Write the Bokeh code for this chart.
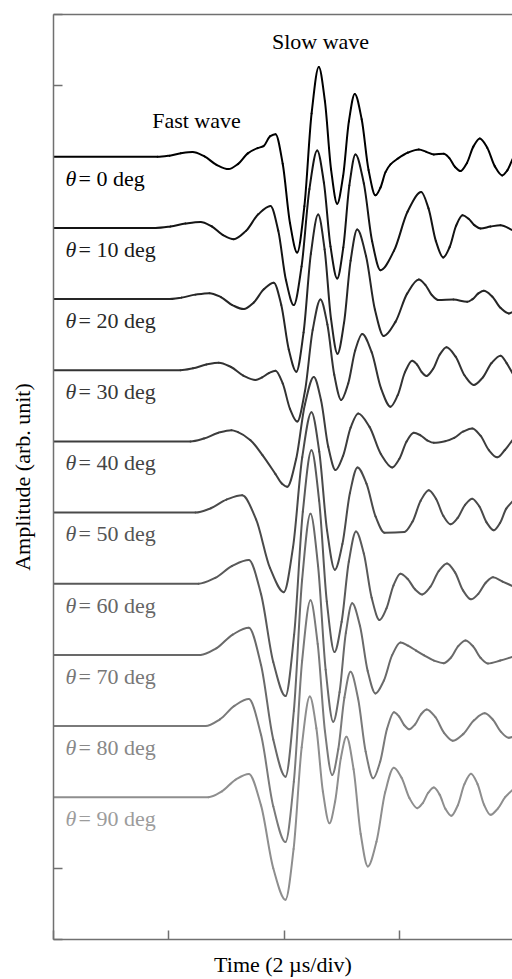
from bokeh.plotting import figure
from bokeh.models import Range1d, FixedTicker, LinearAxis, Label, ColumnDataSource
from bokeh.embed import file_html
from bokeh.resources import INLINE

# ---- data (time in microseconds, amplitude in arb. units relative to each trace's baseline) ----
angles = [0, 10, 20, 30, 40, 50, 60, 70, 80, 90]

t0 = [0, 1.804, 2.013, 2.209, 2.411, 2.619, 2.828, 3.036, 3.204, 3.371, 3.539, 3.643, 3.76, 3.851, 3.976, 4.102, 4.227, 4.352, 4.477, 4.602, 4.708, 4.815, 4.921, 5.023, 5.124, 5.226, 5.346, 5.465, 5.585, 5.672, 5.759, 5.846, 5.967, 6.15, 6.337, 6.467, 6.597, 6.770, 6.867, 6.963, 7.060, 7.172, 7.283, 7.395, 7.524, 7.654, 7.783, 7.872, 7.962]
a0 = [0, 0, 0.016, 0.050, 0.066, 0.006, -0.113, -0.173, -0.099, 0.049, 0.122, 0.150, 0.290, 0.318, -0.098, -0.930, -1.346, -0.694, 0.610, 1.262, 0.782, -0.179, -0.659, -0.273, 0.498, 0.884, 0.528, -0.185, -0.541, -0.432, -0.216, -0.107, -0.028, 0.060, 0.104, 0.070, 0.034, 0.042, -0.019, -0.140, -0.201, -0.086, 0.143, 0.258, 0.128, -0.131, -0.261, -0.190, -0.032]

t10 = [0, 1.769, 2.03, 2.29, 2.550, 2.742, 2.935, 3.127, 3.339, 3.552, 3.764, 3.899, 4.033, 4.168, 4.303, 4.439, 4.574, 4.690, 4.805, 4.921, 5.027, 5.132, 5.238, 5.383, 5.527, 5.672, 5.907, 6.143, 6.378, 6.505, 6.633, 6.760, 6.872, 6.983, 7.095, 7.2, 7.3, 7.407, 7.58, 7.754, 7.962]
a10 = [0, 0, 0.021, 0.063, 0.084, 0.024, -0.098, -0.158, -0.041, 0.192, 0.309, -0.039, -0.736, -1.084, -0.541, 0.547, 1.090, 0.640, -0.260, -0.710, -0.274, 0.598, 1.034, 0.627, -0.186, -0.593, -0.319, 0.231, 0.505, 0.275, -0.185, -0.415, -0.267, 0.030, 0.178, 0.13, 0.04, -0.008, 0.02, 0.038, -0.032]

t20 = [0, 1.977, 2.22, 2.46, 2.706, 2.904, 3.102, 3.301, 3.474, 3.648, 3.821, 3.951, 4.081, 4.212, 4.338, 4.464, 4.591, 4.703, 4.814, 4.926, 5.040, 5.154, 5.268, 5.422, 5.575, 5.729, 5.932, 6.134, 6.337, 6.45, 6.56, 6.678, 6.938, 7.176, 7.27, 7.37, 7.464, 7.609, 7.753, 7.898, 7.962]
a20 = [0, 0, 0.021, 0.063, 0.084, 0.028, -0.084, -0.140, -0.047, 0.138, 0.231, -0.082, -0.707, -1.020, -0.468, 0.636, 1.188, 0.699, -0.278, -0.767, -0.331, 0.542, 0.978, 0.604, -0.145, -0.519, -0.320, 0.077, 0.276, 0.20, 0.06, -0.014, -0.007, -0.038, 0.0, 0.08, 0.116, 0.037, -0.122, -0.201, -0.182]

t30 = [0, 2.203, 2.42, 2.65, 2.867, 3.079, 3.292, 3.504, 3.62, 3.736, 3.851, 3.976, 4.102, 4.227, 4.362, 4.496, 4.631, 4.751, 4.870, 4.990, 5.112, 5.233, 5.355, 5.519, 5.682, 5.846, 5.971, 6.097, 6.222, 6.305, 6.387, 6.470, 6.586, 6.701, 6.817, 6.975, 7.132, 7.290, 7.445, 7.599, 7.754, 7.86, 7.962]
a30 = [0, 0, 0.027, 0.080, 0.107, 0.046, -0.075, -0.136, -0.10, -0.04, -0.006, -0.185, -0.542, -0.721, -0.292, 0.567, 0.996, 0.643, -0.064, -0.417, -0.186, 0.278, 0.509, 0.254, -0.256, -0.511, -0.350, -0.027, 0.135, 0.081, -0.026, -0.080, 0.021, 0.222, 0.323, 0.191, -0.074, -0.206, -0.103, 0.102, 0.205, 0.10, -0.042]

t40 = [0, 2.376, 2.61, 2.85, 3.088, 3.2, 3.417, 3.625, 3.851, 3.96, 4.054, 4.208, 4.361, 4.515, 4.641, 4.766, 4.892, 5.023, 5.154, 5.285, 5.482, 5.678, 5.875, 6.0, 6.125, 6.250, 6.366, 6.481, 6.597, 6.800, 6.95, 7.11, 7.263, 7.407, 7.552, 7.696, 7.83, 7.962]
a40 = [0, 0, 0.04, 0.119, 0.158, 0.13, 0.018, -0.192, -0.459, -0.59, -0.637, -0.251, 0.520, 0.906, 0.579, -0.076, -0.403, -0.204, 0.194, 0.393, 0.204, -0.176, -0.365, -0.244, 0.0, 0.121, 0.086, 0.015, -0.020, 0.004, 0.05, 0.14, 0.182, 0.081, -0.123, -0.224, -0.12, 0.018]

t50 = [0, 2.463, 2.73, 3.0, 3.273, 3.514, 3.755, 3.995, 4.155, 4.315, 4.475, 4.610, 4.745, 4.880, 5.011, 5.142, 5.273, 5.429, 5.586, 5.742, 6.088, 6.229, 6.369, 6.510, 6.635, 6.761, 6.886, 7.012, 7.137, 7.263, 7.388, 7.512, 7.637, 7.745, 7.854, 7.962]
a50 = [0, 0, 0.061, 0.182, 0.243, -0.097, -0.778, -1.118, -0.486, 0.779, 1.411, 0.858, -0.249, -0.802, -0.443, 0.276, 0.635, 0.406, -0.054, -0.283, -0.272, -0.126, 0.167, 0.313, 0.194, -0.045, -0.164, -0.074, 0.106, 0.196, 0.085, -0.137, -0.248, -0.147, 0.056, 0.158]

t60 = [0, 2.515, 2.806, 3.097, 3.388, 3.600, 3.812, 4.024, 4.174, 4.325, 4.475, 4.608, 4.741, 4.874, 4.998, 5.123, 5.247, 5.383, 5.519, 5.655, 5.776, 5.898, 6.019, 6.144, 6.270, 6.395, 6.539, 6.682, 6.826, 6.965, 7.103, 7.242, 7.369, 7.497, 7.624, 7.79, 7.962]
a60 = [0, 0, 0.083, 0.249, 0.332, -0.146, -1.101, -1.579, -0.716, 1.012, 1.875, 1.167, -0.250, -0.958, -0.535, 0.312, 0.735, 0.424, -0.198, -0.509, -0.347, -0.022, 0.140, 0.067, -0.078, -0.151, -0.042, 0.177, 0.286, 0.160, -0.093, -0.219, -0.142, 0.013, 0.090, 0.03, -0.032]

t70 = [0, 2.550, 2.829, 3.109, 3.388, 3.600, 3.812, 4.024, 4.169, 4.313, 4.458, 4.589, 4.721, 4.852, 4.962, 5.071, 5.181, 5.316, 5.450, 5.585, 5.730, 5.874, 6.019, 6.15, 6.29, 6.423, 6.60, 6.770, 6.896, 7.021, 7.147, 7.277, 7.407, 7.537, 7.75, 7.962]
a70 = [0, 0, 0.095, 0.286, 0.381, -0.142, -1.188, -1.711, -0.788, 1.060, 1.983, 1.252, -0.209, -0.940, -0.524, 0.309, 0.725, 0.409, -0.225, -0.541, -0.362, -0.004, 0.175, 0.13, 0.06, -0.004, -0.08, -0.116, -0.037, 0.123, 0.202, 0.121, -0.040, -0.121, -0.08, -0.028]

t80 = [0, 2.637, 2.887, 3.138, 3.388, 3.600, 3.812, 4.024, 4.169, 4.313, 4.458, 4.583, 4.709, 4.834, 4.940, 5.046, 5.152, 5.283, 5.415, 5.546, 5.666, 5.786, 5.906, 5.995, 6.083, 6.172, 6.273, 6.374, 6.475, 6.625, 6.775, 6.925, 7.110, 7.295, 7.480, 7.619, 7.759, 7.898, 7.962]
a80 = [0, 0, 0.095, 0.284, 0.379, -0.124, -1.129, -1.631, -0.782, 0.918, 1.767, 1.154, -0.074, -0.687, -0.325, 0.400, 0.762, 0.388, -0.360, -0.734, -0.502, -0.038, 0.194, 0.134, 0.014, -0.046, 0.024, 0.164, 0.234, 0.124, -0.096, -0.206, -0.110, 0.082, 0.178, 0.092, -0.079, -0.165, -0.154]

t90 = [0, 2.689, 2.922, 3.155, 3.388, 3.600, 3.812, 4.024, 4.165, 4.305, 4.446, 4.560, 4.673, 4.787, 4.885, 4.984, 5.082, 5.205, 5.329, 5.452, 5.602, 5.753, 5.903, 6.038, 6.174, 6.309, 6.405, 6.501, 6.597, 6.698, 6.798, 6.899, 7.013, 7.128, 7.242, 7.355, 7.467, 7.580, 7.707, 7.835, 7.962]
a90 = [0, 0, 0.082, 0.245, 0.327, -0.115, -0.998, -1.440, -0.727, 0.701, 1.414, 0.969, 0.080, -0.365, -0.061, 0.546, 0.850, 0.394, -0.517, -0.973, -0.626, 0.068, 0.415, 0.273, -0.012, -0.154, -0.082, 0.063, 0.135, 0.036, -0.163, -0.262, -0.114, 0.183, 0.331, 0.186, -0.103, -0.248, -0.16, 0.0, 0.102]

times = [t0, t10, t20, t30, t40, t50, t60, t70, t80, t90]
amps = [a0, a10, a20, a30, a40, a50, a60, a70, a80, a90]

x_ticks = [0, 2, 4, 6, 8]
y_ticks = [0, 1, 12, 13]

line_colors = ["#000000", "#141414", "#262626", "#333333", "#3d3d3d",
               "#4a4a4a", "#595959", "#696969", "#7a7a7a", "#8e8e8e"]
label_colors = ["#000000", "#1a1a1a", "#2b2b2b", "#383838", "#454545",
                "#555555", "#666666", "#777777", "#888888", "#9c9c9c"]

FONT = "Liberation Serif"
AXIS_COLOR = "#707070"


def curve_segments(xs, ys):
    """Smooth rendering of the read points: cubic Bezier pieces with
    monotone (PCHIP-style) tangents, drawn by Bokeh's bezier glyph."""
    n = len(xs)
    h = [xs[i + 1] - xs[i] for i in range(n - 1)]
    d = [(ys[i + 1] - ys[i]) / h[i] for i in range(n - 1)]
    m = [0.0] * n
    for i in range(1, n - 1):
        if d[i - 1] * d[i] <= 0:
            m[i] = 0.0
        else:
            w1 = 2 * h[i] + h[i - 1]
            w2 = h[i] + 2 * h[i - 1]
            m[i] = (w1 + w2) / (w1 / d[i - 1] + w2 / d[i])
    m[-1] = d[-1]
    seg = dict(x0=[], y0=[], x1=[], y1=[], cx0=[], cy0=[], cx1=[], cy1=[])
    for i in range(n - 1):
        seg["x0"].append(xs[i]); seg["y0"].append(ys[i])
        seg["x1"].append(xs[i + 1]); seg["y1"].append(ys[i + 1])
        seg["cx0"].append(xs[i] + h[i] / 3); seg["cy0"].append(ys[i] + m[i] * h[i] / 3)
        seg["cx1"].append(xs[i + 1] - h[i] / 3); seg["cy1"].append(ys[i + 1] - m[i + 1] * h[i] / 3)
    return seg


p = figure(frame_width=459, frame_height=925,
           x_range=Range1d(0, 7.962), y_range=Range1d(0, 13),
           output_backend="svg", toolbar_location=None,
           min_border_left=53, min_border_right=0,
           min_border_top=14, min_border_bottom=40)
p.outline_line_color = None
p.xgrid.visible = False
p.ygrid.visible = False
p.background_fill_color = "white"

for ax, ticks in ((p.xaxis[0], x_ticks), (p.yaxis[0], y_ticks)):
    ax.ticker = FixedTicker(ticks=ticks)
    ax.major_tick_in = 9
    ax.major_tick_out = 0
    ax.minor_tick_line_color = None
    ax.major_label_text_font_size = "1px"
    ax.major_label_text_color = None
    ax.major_label_standoff = 0
    ax.axis_line_color = AXIS_COLOR
    ax.axis_line_width = 1.5
    ax.major_tick_line_color = AXIS_COLOR
    ax.major_tick_line_width = 1.5
    ax.axis_label_text_font = FONT
    ax.axis_label_text_font_style = "normal"
    ax.axis_label_text_font_size = "22px"
    ax.axis_label_text_color = "black"

p.xaxis.axis_label = "Time (2 \u00b5s/div)"
p.yaxis.axis_label = "Amplitude (arb. unit)"
p.xaxis.axis_label_standoff = 12
p.yaxis.axis_label_standoff = 19

top = LinearAxis(ticker=FixedTicker(ticks=[]), major_label_text_font_size="1px",
                 major_label_text_color=None,
                 major_tick_out=0, major_tick_in=0, minor_tick_line_color=None,
                 axis_line_color=AXIS_COLOR, axis_line_width=1.5)
p.add_layout(top, "above")

n = len(angles)
for i in range(n):
    offset = n + 1 - i
    ys = [offset + v for v in amps[i]]
    src = ColumnDataSource(curve_segments(times[i], ys))
    p.bezier(x0="x0", y0="y0", x1="x1", y1="y1", cx0="cx0", cy0="cy0",
             cx1="cx1", cy1="cy1", source=src,
             line_color=line_colors[i], line_width=2.0, line_cap="round")

label_style = dict(text_font=FONT, text_font_size="22px", text_baseline="alphabetic")
for i, ang in enumerate(angles):
    offset = n + 1 - i
    p.add_layout(Label(x=0.208, y=offset - 0.30, text="\u03b8", text_font_style="italic",
                       text_color=label_colors[i], **label_style))
    p.add_layout(Label(x=0.208, y=offset - 0.30, x_offset=13, text=f"= {ang} deg",
                       text_color=label_colors[i], **label_style))

p.add_layout(Label(x=4.631, y=12.62, text="Slow wave", text_align="center",
                   text_color="black", **label_style))
p.add_layout(Label(x=2.48, y=11.51, text="Fast wave", text_align="center",
                   text_color="black", **label_style))

open("out.html", "w").write(file_html(p, INLINE))
